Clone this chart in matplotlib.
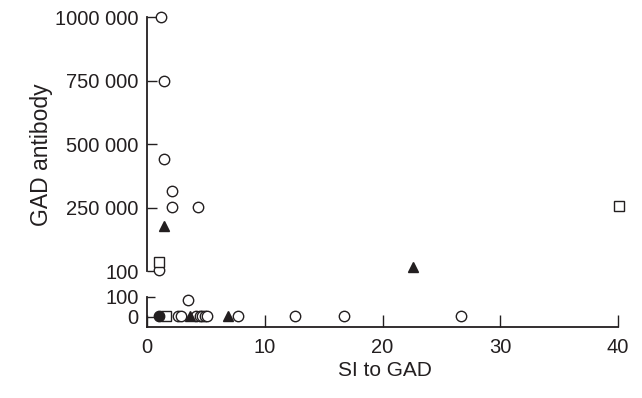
import matplotlib
matplotlib.use("Agg")
import matplotlib.pyplot as plt

plt.rcParams['font.family'] = ['Liberation Sans', 'DejaVu Sans']

# upper panel (high antibody values)
up_circle_x = [1.2, 1.45, 1.45, 2.1, 2.1, 4.3, 1.05]
up_circle_y = [1000000, 750000, 441000, 315000, 252000, 252000, 3000]
up_tri_x = [1.4, 22.6]
up_tri_y = [178000, 15000]
up_sq_x = [1.05, 40.1]
up_sq_y = [36000, 255000]

# lower panel (low antibody values)
lo_circle_x = [3.5, 2.6, 2.9, 4.2, 4.5, 4.7, 4.9, 5.1, 7.7, 12.6, 16.7, 26.7]
lo_circle_y = [85, 5, 5, 5, 5, 5, 5, 5, 5, 5, 5, 5]
lo_tri_x = [3.65, 6.9]
lo_tri_y = [5, 5]
lo_sq_x = [1.65]
lo_sq_y = [5]
lo_dot_x = [1.0]
lo_dot_y = [5]

up_ticks = [100, 250000, 500000, 750000, 1000000]
up_labels = ['100', '250 000', '500 000', '750 000', '1000 000']
lo_ticks = [0, 100]
lo_labels = ['0', '100']
x_ticks = [0, 10, 20, 30, 40]

ink = '#231f20'
fig = plt.figure(figsize=(6.42, 3.98), dpi=100)
ax1 = fig.add_axes([0.229, 0.319, 0.7336, 0.638])
ax2 = fig.add_axes([0.229, 0.1784, 0.7336, 0.0754])

ms = 7.5
kw = dict(linestyle='none', markeredgecolor=ink, markeredgewidth=1.0, clip_on=False, zorder=3)

ax1.plot(up_circle_x, up_circle_y, marker='o', markersize=ms, markerfacecolor='white', **kw)
ax1.plot(up_tri_x, up_tri_y, marker='^', markersize=ms, markerfacecolor=ink, **kw)
ax1.plot(up_sq_x, up_sq_y, marker='s', markersize=ms - 0.5, markerfacecolor='white', **kw)

ax2.plot(lo_circle_x, lo_circle_y, marker='o', markersize=ms, markerfacecolor='white', **kw)
ax2.plot(lo_sq_x, lo_sq_y, marker='s', markersize=ms - 0.5, markerfacecolor='white', **kw)
ax2.plot(lo_tri_x, lo_tri_y, marker='^', markersize=ms, markerfacecolor=ink, **kw)
ax2.plot(lo_dot_x, lo_dot_y, marker='o', markersize=ms, markerfacecolor=ink, **kw)

for ax in (ax1, ax2):
    ax.set_xlim(0, 40)
    for s in ('top', 'right'):
        ax.spines[s].set_visible(False)
    ax.spines['left'].set_linewidth(1.3)
    ax.spines['left'].set_color(ink)
    ax.tick_params(colors=ink, labelsize=14.5, width=1.0)

ax1.set_ylim(100, 1000000)
ax1.spines['bottom'].set_visible(False)
ax1.set_xticks([])
ax1.set_yticks(up_ticks)
ax1.set_yticklabels(up_labels)
ax1.tick_params(axis='y', direction='in', length=7, pad=6)

ax2.set_ylim(-50, 100)
ax2.spines['left'].set_bounds(-50, 100)
ax2.spines['bottom'].set_linewidth(1.3)
ax2.spines['bottom'].set_color(ink)
ax2.set_yticks(lo_ticks)
ax2.set_yticklabels(lo_labels)
ax2.tick_params(axis='y', direction='in', length=6, pad=6)
ax2.set_xticks(x_ticks)
ax2.set_xticklabels([str(t) for t in x_ticks])
ax2.tick_params(axis='x', direction='in', length=9, pad=8)

fig.text(0.064, 0.612, 'GAD antibody', rotation=90, ha='center', va='center', fontsize=16.5, color=ink)
fig.text(0.6, 0.07, 'SI to GAD', ha='center', va='center', fontsize=15, color=ink)

fig.savefig('out.png', dpi=100)
